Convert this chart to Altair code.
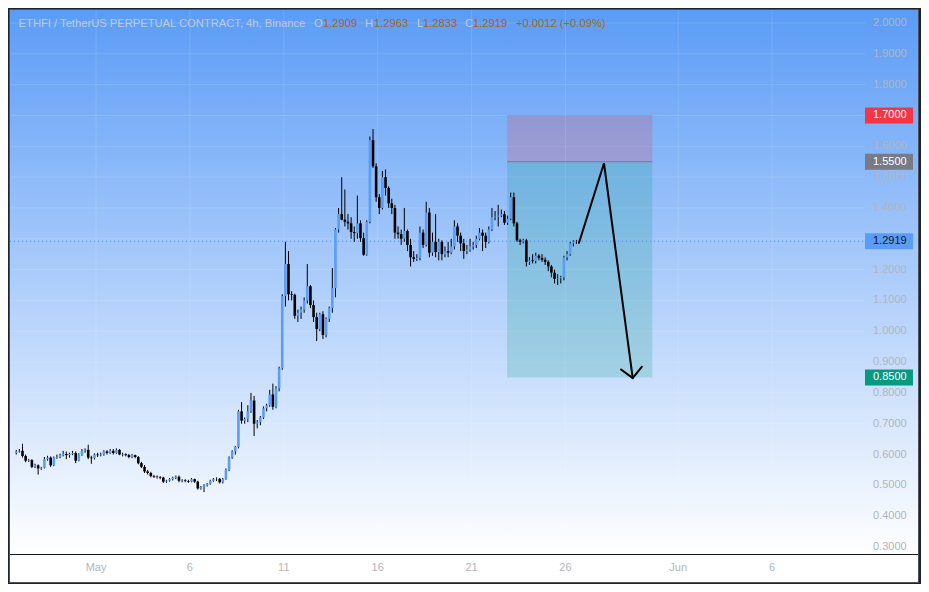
import altair as alt
import pandas as pd

# ---------------- data ----------------
opens = [0.605,0.610,0.612,0.595,0.580,0.582,0.560,0.565,0.555,0.557,
         0.585,0.590,0.565,0.590,0.592,0.598,0.602,0.598,0.602,0.605,
         0.580,0.600,0.612,0.615,0.590,0.588,0.600,0.598,0.600,0.610,
         0.605,0.612,0.605,0.615,0.600,0.601,0.598,0.592,0.598,0.592,
         0.572,0.560,0.545,0.540,0.530,0.528,0.527,0.525,0.512,0.515,
         0.520,0.525,0.528,0.515,0.516,0.514,0.512,0.520,0.512,0.490,
         0.495,0.500,0.505,0.515,0.520,0.521,0.510,0.520,0.550,0.590,
         0.610,0.625,0.740,0.710,0.715,0.740,0.775,0.700,0.705,0.720,
         0.750,0.760,0.795,0.755,0.815,0.880,1.114,1.218,1.120,1.118,
         1.050,1.060,1.070,1.100,1.146,1.085,1.046,1.007,1.055,0.988,
         1.040,1.075,1.140,1.330,1.380,1.362,1.355,1.350,1.322,1.318,
         1.350,1.302,1.248,1.355,1.620,1.535,1.435,1.400,1.500,1.465,
         1.415,1.400,1.320,1.315,1.300,1.325,1.280,1.240,1.235,1.238,
         1.320,1.280,1.385,1.255,1.290,1.257,1.290,1.250,1.260,1.255,
         1.275,1.340,1.310,1.285,1.260,1.265,1.275,1.280,1.300,1.320,
         1.310,1.290,1.330,1.370,1.372,1.375,1.380,1.352,1.365,1.435,
         1.350,1.295,1.290,1.295,1.225,1.230,1.228,1.245,1.238,1.232,
         1.225,1.210,1.190,1.170,1.172,1.175,1.240,1.250,1.285,1.2909]
highs = [0.615,0.618,0.635,0.600,0.586,0.585,0.570,0.568,0.560,0.592,
         0.596,0.594,0.594,0.600,0.603,0.612,0.610,0.606,0.612,0.610,
         0.604,0.618,0.620,0.632,0.596,0.604,0.606,0.606,0.614,0.614,
         0.618,0.618,0.620,0.618,0.606,0.604,0.602,0.602,0.600,0.595,
         0.576,0.566,0.550,0.544,0.534,0.532,0.530,0.528,0.518,0.524,
         0.528,0.532,0.532,0.520,0.520,0.518,0.524,0.522,0.515,0.498,
         0.504,0.508,0.518,0.524,0.526,0.524,0.524,0.555,0.594,0.614,
         0.628,0.745,0.770,0.720,0.760,0.800,0.790,0.712,0.725,0.756,
         0.765,0.810,0.830,0.822,0.885,1.120,1.290,1.260,1.130,1.122,
         1.070,1.080,1.110,1.218,1.150,1.100,1.060,1.060,1.065,1.045,
         1.080,1.205,1.335,1.400,1.500,1.460,1.380,1.370,1.340,1.440,
         1.360,1.320,1.360,1.632,1.656,1.545,1.445,1.520,1.525,1.470,
         1.430,1.410,1.340,1.330,1.400,1.330,1.300,1.260,1.250,1.340,
         1.330,1.420,1.400,1.320,1.380,1.300,1.295,1.275,1.290,1.300,
         1.360,1.350,1.320,1.300,1.280,1.300,1.290,1.310,1.335,1.330,
         1.320,1.340,1.400,1.390,1.410,1.395,1.390,1.375,1.450,1.450,
         1.355,1.300,1.300,1.300,1.240,1.250,1.255,1.250,1.250,1.240,
         1.230,1.215,1.200,1.185,1.180,1.245,1.260,1.290,1.295,1.2963]
lows = [0.600,0.606,0.590,0.575,0.576,0.556,0.556,0.535,0.550,0.555,
        0.580,0.560,0.562,0.586,0.588,0.594,0.585,0.590,0.598,0.572,
        0.578,0.596,0.606,0.585,0.570,0.584,0.592,0.594,0.596,0.600,
        0.602,0.600,0.602,0.598,0.594,0.594,0.588,0.588,0.588,0.568,
        0.556,0.540,0.535,0.526,0.524,0.522,0.520,0.508,0.508,0.512,
        0.516,0.520,0.510,0.510,0.510,0.508,0.510,0.508,0.486,0.486,
        0.478,0.496,0.502,0.512,0.514,0.506,0.506,0.518,0.546,0.586,
        0.600,0.620,0.700,0.700,0.705,0.735,0.660,0.685,0.695,0.715,
        0.740,0.755,0.745,0.750,0.805,0.875,1.080,1.100,1.100,1.040,
        1.030,1.040,1.060,1.090,1.075,1.030,0.968,1.000,0.975,0.980,
        1.030,1.060,1.110,1.320,1.360,1.340,1.330,1.300,1.290,1.300,
        1.290,1.245,1.245,1.350,1.530,1.420,1.380,1.395,1.440,1.400,
        1.380,1.300,1.300,1.280,1.290,1.260,1.210,1.225,1.228,1.230,
        1.270,1.275,1.240,1.245,1.240,1.230,1.230,1.240,1.240,1.250,
        1.265,1.290,1.260,1.235,1.250,1.258,1.265,1.270,1.295,1.260,
        1.270,1.285,1.325,1.360,1.340,1.370,1.345,1.345,1.360,1.340,
        1.290,1.280,1.285,1.210,1.215,1.220,1.220,1.230,1.225,1.215,
        1.195,1.175,1.155,1.150,1.155,1.165,1.230,1.245,1.275,1.2833]
closes = [0.610,0.612,0.595,0.580,0.582,0.560,0.565,0.555,0.557,0.585,
          0.590,0.565,0.590,0.592,0.598,0.602,0.598,0.602,0.605,0.580,
          0.600,0.612,0.615,0.590,0.588,0.600,0.598,0.600,0.610,0.605,
          0.612,0.605,0.615,0.600,0.601,0.598,0.592,0.598,0.592,0.572,
          0.560,0.545,0.540,0.530,0.528,0.527,0.525,0.512,0.515,0.520,
          0.525,0.528,0.515,0.516,0.514,0.512,0.520,0.512,0.490,0.495,
          0.500,0.505,0.515,0.520,0.521,0.510,0.520,0.550,0.590,0.610,
          0.625,0.740,0.710,0.715,0.740,0.775,0.700,0.705,0.720,0.750,
          0.760,0.795,0.755,0.815,0.880,1.114,1.218,1.120,1.118,1.050,
          1.060,1.070,1.100,1.146,1.085,1.046,1.007,1.055,0.988,1.040,
          1.075,1.140,1.330,1.380,1.362,1.355,1.350,1.322,1.318,1.350,
          1.302,1.248,1.355,1.620,1.535,1.435,1.400,1.500,1.465,1.415,
          1.400,1.320,1.315,1.300,1.325,1.280,1.240,1.235,1.238,1.320,
          1.280,1.385,1.255,1.290,1.257,1.290,1.250,1.260,1.255,1.275,
          1.340,1.310,1.285,1.260,1.265,1.275,1.280,1.300,1.320,1.310,
          1.290,1.330,1.370,1.372,1.375,1.380,1.352,1.365,1.435,1.350,
          1.295,1.290,1.295,1.225,1.230,1.228,1.245,1.238,1.232,1.225,
          1.210,1.190,1.170,1.172,1.175,1.240,1.250,1.285,1.291,1.2919]

# time: days since May 1 00:00, 4h candles (6 per day); first candle centre
first_candle_day = -4.25
candles_per_day = 6

# axes
xtick_days = [0, 5, 10, 15, 20, 25, 31, 36]
xtick_labels = ["May", "6", "11", "16", "21", "26", "Jun", "6"]
ytick_vals = [0.3, 0.4, 0.5, 0.6, 0.7, 0.8, 0.9, 1.0, 1.1, 1.2,
              1.3, 1.4, 1.5, 1.6, 1.7, 1.8, 1.9, 2.0]
# scale labels that are not hidden behind a price tag
ylabel_vals = [0.3, 0.4, 0.5, 0.6, 0.7, 0.8, 0.9, 1.0, 1.1, 1.2,
               1.4, 1.5, 1.6, 1.8, 1.9, 2.0]

# short position tool
pos_days = [21.89, 29.62]
stop_price = 1.70
entry_price = 1.55
target_price = 0.85
last_price = 1.2919

# drawn arrow
arrow_days = [25.72, 27.05, 28.58]
arrow_prices = [1.287, 1.545, 0.848]
head_days = [27.96, 28.58, 29.07]
head_prices = [0.876, 0.848, 0.885]

# price-scale tags
tag_prices = [1.70, 1.55, 1.2919, 0.85]
tag_texts = ["1.7000", "1.5500", "1.2919", "0.8500"]
tag_fill = ["#f23645", "#787b86", "#5b9cf6", "#089981"]
tag_text_col = ["#ffffff", "#ffffff", "#131722", "#ffffff"]

# header legend
hdr_texts = ["ETHFI / TetherUS PERPETUAL CONTRACT, 4h, Binance", "O", "1.2909",
             "H", "1.2963", "L", "1.2833", "C", "1.2919", "+0.0012 (+0.09%)"]
hdr_x = [8.6, 304, 313, 355, 364, 407, 413, 455, 463, 506]
hdr_col = ["#c3c9d4", "#c3c9d4", "#a8641e", "#c3c9d4", "#a8641e",
           "#c3c9d4", "#a8641e", "#c3c9d4", "#a8641e", "#a8641e"]

# ---------------- layout ----------------
W, H = 855, 544          # plot area
PANEL_W, PANEL_H = 908, 572
XDOM = [-4.316, 40.684]
YDOM = [0.2773, 2.0422]
FONT = "Liberation Sans"
LABEL_COL = "#b2b5be"
UP_COL = "#5b9cf6"
DOWN_COL = "#000000"

xscale = alt.Scale(domain=XDOM, nice=False, zero=False)
yscale = alt.Scale(domain=YDOM, nice=False, zero=False)


def X(f):
    return alt.X(f, type="quantitative", scale=xscale, axis=None)


def Y(f):
    return alt.Y(f, type="quantitative", scale=yscale, axis=None)


n = len(closes)
df = pd.DataFrame({
    "day": [first_candle_day + i / candles_per_day for i in range(n)],
    "o": opens, "h": highs, "l": lows, "c": closes,
})

one = pd.DataFrame({"a": [0]})

bg = alt.Chart(one).mark_rect(
    fill=alt.Gradient(gradient="linear",
                      stops=[alt.GradientStop(color="#5b9cf6", offset=0),
                             alt.GradientStop(color="#ffffff", offset=1)],
                      x1=0, x2=0, y1=0, y2=1)
).encode(x=alt.value(0), x2=alt.value(PANEL_W), y=alt.value(0), y2=alt.value(H))

strip = alt.Chart(one).mark_rect(fill="#ffffff").encode(
    x=alt.value(0), x2=alt.value(PANEL_W), y=alt.value(H), y2=alt.value(PANEL_H))

ygdf = pd.DataFrame({"v": ytick_vals})
yldf = pd.DataFrame({"v": ylabel_vals, "t": ["%.4f" % v for v in ylabel_vals]})
xdf = pd.DataFrame({"d": xtick_days, "t": xtick_labels})

ygrid = alt.Chart(ygdf).mark_rule(
    color="#ffffff", opacity=0.13, strokeWidth=1
).encode(y=Y("v"), x=alt.value(0), x2=alt.value(W))

xgrid = alt.Chart(xdf).mark_rule(
    color="#ffffff", opacity=0.13, strokeWidth=1
).encode(x=X("d"), y=alt.value(0), y2=alt.value(H))

ylabels = alt.Chart(yldf).mark_text(
    align="left", baseline="middle", font=FONT, fontSize=11, color=LABEL_COL
).encode(y=Y("v"), x=alt.value(W + 8), text="t:N")

xlabels = alt.Chart(xdf).mark_text(
    align="center", baseline="middle", font=FONT, fontSize=11, color=LABEL_COL
).encode(x=X("d"), y=alt.value(H + 14), text="t:N")

stop_rect = alt.Chart(pd.DataFrame({
    "d0": [pos_days[0]], "d1": [pos_days[1]],
    "p0": [entry_price], "p1": [stop_price]})).mark_rect(
    fill="#f23645", opacity=0.2).encode(
    x=X("d0"), x2="d1", y=Y("p0"), y2="p1")

target_rect = alt.Chart(pd.DataFrame({
    "d0": [pos_days[0]], "d1": [pos_days[1]],
    "p0": [target_price], "p1": [entry_price]})).mark_rect(
    fill="#089981", opacity=0.2).encode(
    x=X("d0"), x2="d1", y=Y("p0"), y2="p1")

stop_line = alt.Chart(pd.DataFrame({
    "d0": [pos_days[0]], "d1": [pos_days[1]], "p": [stop_price]})).mark_rule(
    color="#d97a99", strokeWidth=1, opacity=0.8).encode(
    x=X("d0"), x2="d1", y=Y("p"))

entry_line = alt.Chart(pd.DataFrame({
    "d0": [pos_days[0]], "d1": [pos_days[1]], "p": [entry_price]})).mark_rule(
    color="#787b86", strokeWidth=1).encode(
    x=X("d0"), x2="d1", y=Y("p"))

last_line = alt.Chart(pd.DataFrame({"p": [last_price]})).mark_rule(
    color="#4f8fef", strokeDash=[1, 3], strokeWidth=1
).encode(y=Y("p"), x=alt.value(0), x2=alt.value(W))

wicks = alt.Chart(df).mark_rule(color="#000000", strokeWidth=1).encode(
    x=X("day"), y=Y("l"), y2="h")

bodies = alt.Chart(df).mark_bar(size=2.6).encode(
    x=X("day"), y=Y("o"), y2="c",
    color=alt.condition(alt.datum.c >= alt.datum.o,
                        alt.value(UP_COL), alt.value(DOWN_COL)))

arrow = alt.Chart(pd.DataFrame({"d": arrow_days, "p": arrow_prices,
                                "k": list(range(len(arrow_days)))})).mark_line(
    color="#000000", strokeWidth=2, strokeJoin="miter", strokeCap="round"
).encode(x=X("d"), y=Y("p"), order="k:Q")

head = alt.Chart(pd.DataFrame({"d": head_days, "p": head_prices,
                               "k": list(range(len(head_days)))})).mark_line(
    color="#000000", strokeWidth=2, strokeCap="round"
).encode(x=X("d"), y=Y("p"), order="k:Q")

sep = alt.Chart(one).mark_rule(color="#131722", strokeWidth=1).encode(
    x=alt.value(0), x2=alt.value(PANEL_W), y=alt.value(H + 0.5))

tag_layers = []
for p, t, f, tc in zip(tag_prices, tag_texts, tag_fill, tag_text_col):
    tdf = pd.DataFrame({"p": [p], "t": [t]})
    tag_layers.append(
        alt.Chart(tdf).mark_rule(strokeWidth=16, strokeCap="butt", color=f).encode(
            y=Y("p"), x=alt.value(W), x2=alt.value(W + 48)))
    tag_layers.append(
        alt.Chart(tdf).mark_text(align="left", baseline="middle", font=FONT,
                                 fontSize=11, color=tc).encode(
            y=Y("p"), x=alt.value(W + 8), text="t:N"))

hdr_layers = []
for t, px, col in zip(hdr_texts, hdr_x, hdr_col):
    hdr_layers.append(
        alt.Chart(pd.DataFrame({"t": [t]})).mark_text(
            align="left", baseline="middle", font=FONT, fontSize=11.2, color=col
        ).encode(x=alt.value(px), y=alt.value(14), text="t:N"))

border = alt.Chart(one).mark_rect(fillOpacity=0, stroke="#50535e",
                                  strokeWidth=1).encode(
    x=alt.value(-0.5), x2=alt.value(PANEL_W + 0.5),
    y=alt.value(-0.5), y2=alt.value(PANEL_H + 0.5))

chart = alt.layer(
    bg, strip, ygrid, xgrid, ylabels, xlabels, stop_rect, target_rect,
    stop_line, entry_line, last_line, wicks, bodies, arrow, head, sep,
    *tag_layers, *hdr_layers, border
).properties(
    width=W, height=H,
    autosize=alt.AutoSizeParams(type="none"),
    padding={"left": 2, "top": 2, "right": 56, "bottom": 30},
    background="#1e222d",
).configure_view(stroke=None)

chart.save("out.html", embed_options={"renderer": "svg", "actions": False})
